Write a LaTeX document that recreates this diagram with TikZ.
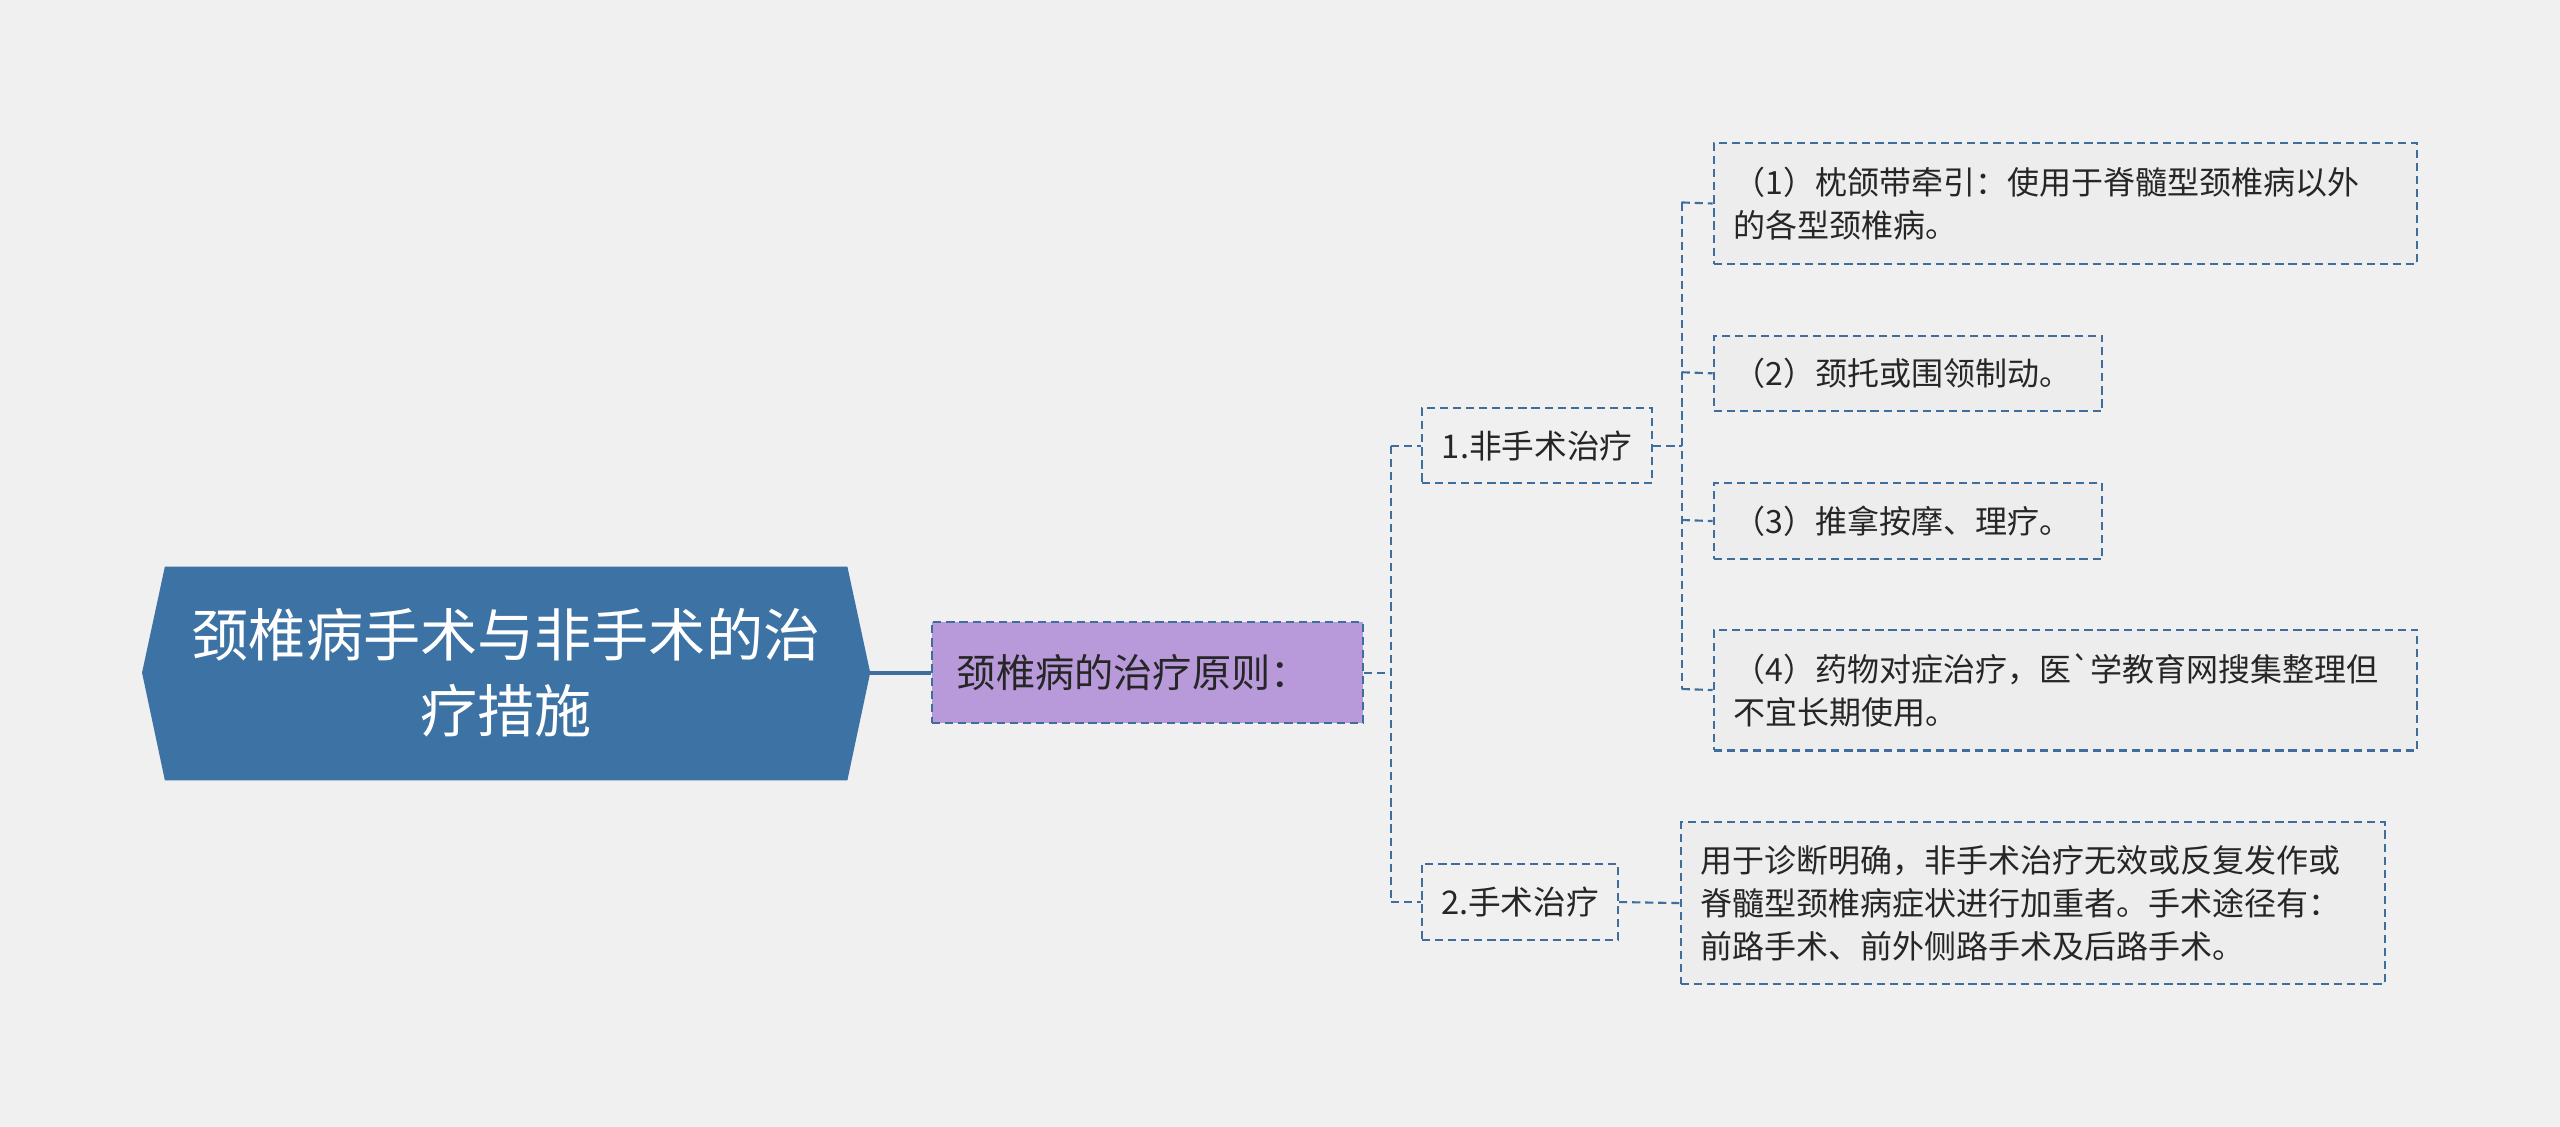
\documentclass[tikz,border=0pt]{standalone}
\usepackage{fontspec}
\setmainfont{Noto Sans CJK SC}
\newfontfamily\rawcjk{Noto Sans CJK SC}
\usetikzlibrary{shapes.geometric}
\definecolor{bg}{HTML}{F0F0F0}
\definecolor{ln}{HTML}{3F6E9C}
\definecolor{rootc}{HTML}{3C72A4}
\definecolor{purp}{HTML}{B89ADA}
\definecolor{leaf}{HTML}{EDEDED}
\tikzset{
 box/.style={draw=ln,dashed,line width=1.3pt,dash pattern=on 5pt off 3pt,inner sep=0pt,align=left,text=black!85},
 conn/.style={draw=ln,line width=1.3pt,dash pattern=on 5pt off 3pt},
}
\begin{document}
\begin{tikzpicture}[x=1pt,y=-1pt]
\fill[bg] (0,0) rectangle (1568,690);
\useasboundingbox (0,0) rectangle (1568,690);
% root
\fill[rootc] (87,412) -- (101,347) -- (519,347) -- (533,412) -- (519,478) -- (101,478) -- cycle;
\node[text=white,align=center,font=\fontsize{35}{46}\selectfont] (root) at (310,412) {颈椎病手术与非手术的治\\疗措施};
\coordinate (rootR) at (533,412);
% level1
\node[box,fill=purp,minimum width=264pt,minimum height=62pt,font=\fontsize{24}{30}\selectfont,anchor=west] (l1) at (570,412) {\hspace*{13pt}颈椎病的治疗原则：\hspace*{30pt}};
\draw[ln,line width=2.5pt] (rootR) -- (l1.west);
% level2
\node[box,minimum width=141pt,minimum height=46pt,font=\fontsize{20}{24}\selectfont] (a) at (941.5,273) {1.非手术治疗};
\node[box,minimum width=120pt,minimum height=47pt,font=\fontsize{20}{24}\selectfont] (b) at (931,552.5) {2.手术治疗};
\draw[conn] (l1.east) -- (852,412) coordinate (j1);
\draw[conn] (852,273) -- (852,552.5);
\draw[conn] (852,273) -- (a.west);
\draw[conn] (852,552.5) -- (b.west);
% leaves
\tikzset{lf/.style={box,fill=leaf,font=\fontsize{19.6}{26.5}\selectfont,anchor=north west}}
\node[lf,minimum width=431pt,minimum height=74pt,text width=407pt] (c1) at (1049,87) {（1）枕颌带牵引：使用于脊髓型颈椎病以外\\的各型颈椎病。};
\node[lf,minimum width=238pt,minimum height=46pt,text width=214pt] (c2) at (1049,205) {（2）颈托或围领制动。};
\node[lf,minimum width=238pt,minimum height=47pt,text width=214pt] (c3) at (1049,295) {（3）推拿按摩、理疗。};
\node[lf,minimum width=431pt,minimum height=74pt,text width=407pt] (c4) at (1049,385) {（4）药物对症治疗，医{\rawcjk`}学教育网搜集整理但\\不宜长期使用。};
\node[lf,minimum width=431pt,minimum height=99pt,text width=407pt] (d1) at (1029,503) {用于诊断明确，非手术治疗无效或反复发作或\\脊髓型颈椎病症状进行加重者。手术途径有：\\前路手术、前外侧路手术及后路手术。};
\draw[conn] (a.east) -- (1030,273);
\draw[conn] (1030,124) -- (1030,422);
\draw[conn] (1030,124) -- (c1.west);
\draw[conn] (1030,228) -- (c2.west);
\draw[conn] (1030,318.5) -- (c3.west);
\draw[conn] (1030,422) -- (c4.west);
\draw[conn] (b.east) -- (d1.west);
\end{tikzpicture}
\end{document}
